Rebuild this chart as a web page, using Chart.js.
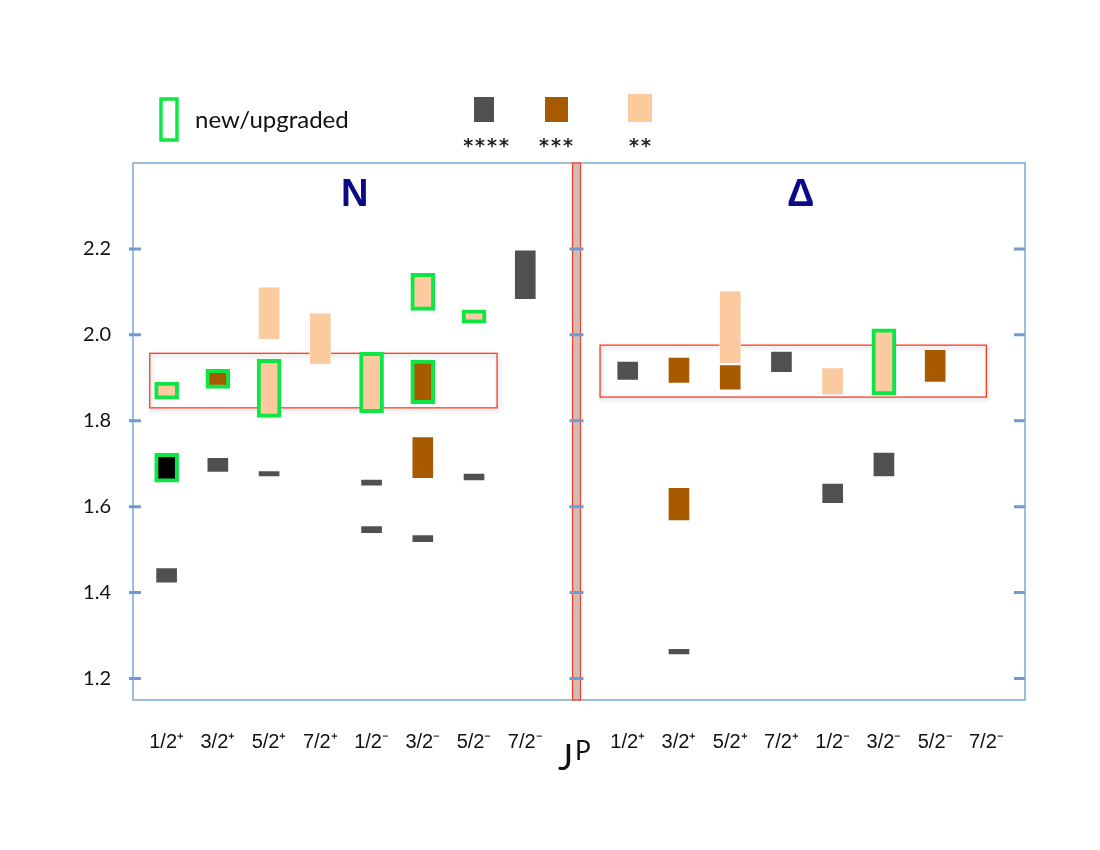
<!DOCTYPE html>
<html>
<head>
<meta charset="utf-8">
<title>N and Δ states by J^P</title>
<script src="https://cdn.jsdelivr.net/npm/chart.js@4.4.0/dist/chart.umd.min.js"></script>
<style>
  html, body { margin: 0; padding: 0; background: #fff; }
  canvas { display: block; }
</style>
</head>
<body>
<canvas id="chart-canvas" width="1100" height="850"></canvas>
<script>
// J^P columns, same eight for both panels (slot 8 is the divider)
const spinParity = ["1/2⁺", "3/2⁺", "5/2⁺", "7/2⁺", "1/2⁻", "3/2⁻", "5/2⁻", "7/2⁻"];
const xLabels = [...spinParity.map(s => "N " + s), "|", ...spinParity.map(s => "Δ " + s)];
const deltaOffset = 9;

// mass ranges as [column, low, high]
const nFourStar = [[0, 1.422, 1.458], [1, 1.680, 1.715], [2, 1.669, 1.684], [4, 1.648, 1.664], [4, 1.537, 1.556], [5, 1.516, 1.535], [6, 1.660, 1.678], [7, 2.082, 2.198]];
const nFourStarNew = [[0, 1.657, 1.724]];
const nThreeStar = [[5, 1.665, 1.763]];
const nThreeStarNew = [[1, 1.875, 1.920], [5, 1.840, 1.941]];
const nTwoStar = [[2, 1.989, 2.112], [3, 1.931, 2.051]];
const nTwoStarNew = [[0, 1.850, 1.890], [2, 1.808, 1.943], [4, 1.819, 1.959], [5, 2.057, 2.143], [6, 2.027, 2.058]];

const deltaFourStar = [[0, 1.894, 1.939], [1, 1.255, 1.270], [3, 1.912, 1.962], [4, 1.607, 1.655], [5, 1.669, 1.727]];
const deltaThreeStar = [[1, 1.887, 1.948], [1, 1.567, 1.645], [2, 1.871, 1.931], [6, 1.889, 1.966]];
const deltaTwoStar = [[2, 1.933, 2.103], [4, 1.860, 1.924]];
const deltaTwoStarNew = [[5, 1.860, 2.014]];

const yTicks = [1.2, 1.4, 1.6, 1.8, 2.0, 2.2];

// highlighted bands: [from column, to column, low, high]
const nBand = [-0.33, 6.45, 1.830, 1.957];
const deltaBand = [-0.54, 7.0, 1.855, 1.976];

document.addEventListener("DOMContentLoaded", function() {
    const GRAY = "#505050";
    const BROWN = "#a85a00";
    const PEACH = "#fbca9f";
    const GREEN = "#0ee646";
    const AXIS_BLUE = "#7ea6d6";
    const RED = "#ff3b1f";
    const FRAME_PAD_LEFT = 8;
    const FRAME_PAD_RIGHT = 13;

    function toPoints(list, offset) {
        return list.map(([col, low, high]) => ({ x: xLabels[col + offset], y: [low, high] }));
    }

    function barSet(points, fill, isNew) {
        return {
            data: points,
            backgroundColor: fill,
            borderColor: isNew ? GREEN : "rgba(255,255,255,0.5)",
            borderWidth: isNew ? 4 : 1,
            borderSkipped: false,
            barThickness: isNew ? 24 : 22,
            grouped: false
        };
    }

    const datasets = [
        barSet([...toPoints(nTwoStar, 0), ...toPoints(deltaTwoStar, deltaOffset)], PEACH, false),
        barSet([...toPoints(nThreeStar, 0), ...toPoints(deltaThreeStar, deltaOffset)], BROWN, false),
        barSet([...toPoints(nFourStar, 0), ...toPoints(deltaFourStar, deltaOffset)], GRAY, false),
        barSet([...toPoints(nTwoStarNew, 0), ...toPoints(deltaTwoStarNew, deltaOffset)], PEACH, true),
        barSet(toPoints(nThreeStarNew, 0), BROWN, true),
        barSet(toPoints(nFourStarNew, 0), "#000000", true)
    ];

    // frame, divider, tick marks, bands, titles and legend
    const decorations = {
        id: "decorations",
        beforeDatasetsDraw(chart) {
            const { ctx, scales: { x, y } } = chart;
            ctx.save();
            [[nBand, 0], [deltaBand, deltaOffset]].forEach(([band, offset]) => {
                const left = x.getPixelForValue(band[0] + offset);
                const right = x.getPixelForValue(band[1] + offset);
                const top = y.getPixelForValue(band[3]);
                const bottom = y.getPixelForValue(band[2]);
                ctx.shadowColor = "rgba(0,0,0,0.25)";
                ctx.shadowBlur = 4;
                ctx.shadowOffsetX = 1;
                ctx.shadowOffsetY = 2;
                ctx.strokeStyle = RED;
                ctx.lineWidth = 1.3;
                ctx.strokeRect(left, top, right - left, bottom - top);
            });
            ctx.restore();
        },
        afterDraw(chart) {
            const { ctx, chartArea: area, scales: { x, y } } = chart;
            const divX = x.getPixelForValue(8);
            const frameLeft = area.left - FRAME_PAD_LEFT;
            const frameRight = area.right + FRAME_PAD_RIGHT;
            ctx.save();

            // panel frame
            ctx.strokeStyle = AXIS_BLUE;
            ctx.lineWidth = 1.5;
            ctx.strokeRect(frameLeft, area.top, frameRight - frameLeft, area.bottom - area.top);

            // divider
            ctx.fillStyle = "#cdbdb9";
            ctx.fillRect(divX - 4, area.top, 8, area.bottom - area.top);
            ctx.strokeStyle = RED;
            ctx.lineWidth = 1.2;
            ctx.strokeRect(divX - 4, area.top, 8, area.bottom - area.top);

            // tick marks
            ctx.strokeStyle = "#6f9bd2";
            ctx.lineWidth = 3;
            yTicks.forEach(v => {
                const py = y.getPixelForValue(v);
                ctx.beginPath();
                ctx.moveTo(frameLeft - 4, py); ctx.lineTo(frameLeft + 8, py);
                ctx.moveTo(divX - 7, py); ctx.lineTo(divX + 7, py);
                ctx.moveTo(frameRight - 11, py); ctx.lineTo(frameRight, py);
                ctx.stroke();
            });

            // panel titles
            ctx.fillStyle = "#0a0a88";
            ctx.font = "bold 38px 'Liberation Sans', Arial, sans-serif";
            ctx.textAlign = "center";
            ctx.textBaseline = "middle";
            ctx.fillText("N", (frameLeft + divX) / 2, area.top + 33);
            ctx.fillText("Δ", (divX + frameRight) / 2, area.top + 33);

            // axis title J^P
            ctx.fillStyle = "#111";
            ctx.textAlign = "left";
            ctx.textBaseline = "alphabetic";
            ctx.font = "36px Lato, 'Open Sans', sans-serif";
            ctx.fillText("J", 558, 770);
            ctx.font = "26px Lato, 'Open Sans', sans-serif";
            ctx.fillText("P", 575, 760);

            // legend
            ctx.strokeStyle = GREEN;
            ctx.lineWidth = 3.5;
            ctx.strokeRect(161, 99, 16, 41);
            ctx.fillStyle = "#111";
            ctx.font = "24px Lato, 'Open Sans', sans-serif";
            ctx.textBaseline = "middle";
            ctx.fillText("new/upgraded", 195, 120);

            ctx.fillStyle = GRAY;
            ctx.fillRect(474, 97, 20, 25);
            ctx.fillStyle = BROWN;
            ctx.fillRect(545, 97, 23, 25);
            ctx.fillStyle = PEACH;
            ctx.fillRect(628, 94, 24, 28);

            ctx.fillStyle = "#222";
            ctx.font = "bold 19px 'DejaVu Sans', sans-serif";
            ctx.textAlign = "center";
            ctx.letterSpacing = "2px";
            ctx.fillText("****", 487, 147);
            ctx.fillText("***", 557, 147);
            ctx.fillText("**", 641, 147);
            ctx.restore();
        }
    };

    const theChart = document.getElementById("chart-canvas").getContext("2d");
    new Chart(theChart, {
        type: "bar",
        data: {
            labels: xLabels,
            datasets: datasets
        },
        options: {
            responsive: false,
            animation: false,
            layout: { padding: { top: 163, right: 88, left: 0, bottom: 0 } },
            plugins: {
                legend: { display: false },
                tooltip: { enabled: false }
            },
            scales: {
                x: {
                    type: "category",
                    offset: true,
                    grid: { display: false },
                    border: { display: false },
                    ticks: {
                        autoSkip: false,
                        maxRotation: 0,
                        padding: 22,
                        color: "#111",
                        font: { family: "'Liberation Sans Narrow', 'Liberation Sans', sans-serif", size: 20 },
                        // strip the panel prefix from the category key
                        callback: function(value) {
                            const label = this.getLabelForValue(value);
                            return label === "|" ? "" : label.split(" ")[1];
                        }
                    },
                    afterFit: (scale) => { scale.height = 150; }
                },
                y: {
                    min: 1.15,
                    max: 2.4,
                    grid: { display: false },
                    border: { display: false },
                    afterBuildTicks: (scale) => { scale.ticks = yTicks.map(v => ({ value: v })); },
                    ticks: {
                        padding: 22,
                        color: "#111",
                        font: { family: "Lato, 'Open Sans', sans-serif", size: 20 },
                        callback: (value) => Number(value).toFixed(1)
                    },
                    afterFit: (scale) => { scale.width = 141; }
                }
            }
        },
        plugins: [decorations]
    });
});
</script>
</body>
</html>
